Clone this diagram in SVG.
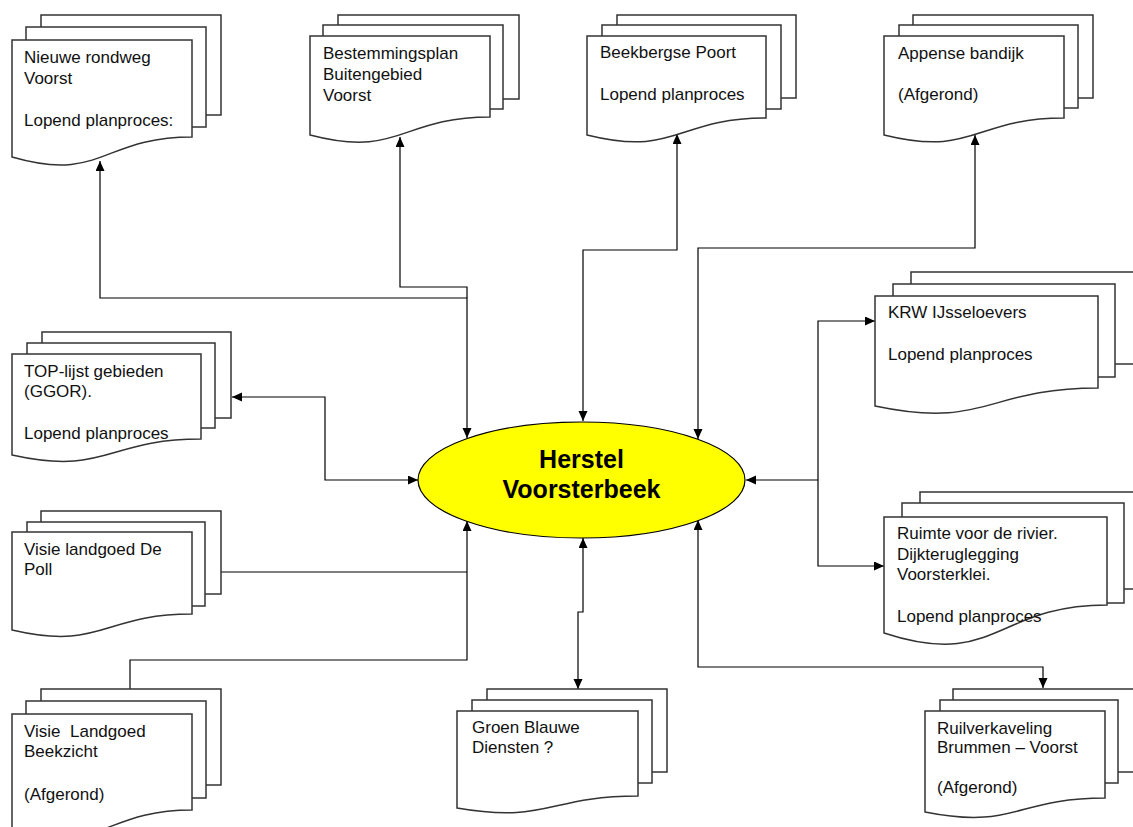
<svg xmlns="http://www.w3.org/2000/svg" width="1133" height="827" viewBox="0 0 1133 827">
<style>
.pg{fill:#fff;stroke:#333;stroke-width:1.5}
.t{font-family:"Liberation Sans",Arial,sans-serif;font-size:17px;fill:#111}
.c{fill:none;stroke:#000;stroke-width:1.2}
.h{font-family:"Liberation Sans",Arial,sans-serif;font-size:25px;font-weight:bold;fill:#000;text-anchor:middle}
</style>
<defs>
<marker id="a" markerUnits="userSpaceOnUse" markerWidth="11" markerHeight="10" refX="10" refY="4.5" orient="auto-start-reverse"><path d="M0,0 L10,4.5 L0,9 z" fill="#000"/></marker>
</defs>
<rect width="1133" height="827" fill="#fff"/>
<g id="connectors">
<path class="c" d="M100,161 V298 H467 V438" marker-start="url(#a)" marker-end="url(#a)"/>
<path class="c" d="M400,137 V287 H467 V298" marker-start="url(#a)"/>
<path class="c" d="M677,134 V250 H583 V421" marker-start="url(#a)" marker-end="url(#a)"/>
<path class="c" d="M975,135 V248 H698 V439" marker-start="url(#a)" marker-end="url(#a)"/>
<path class="c" d="M875,321 H818 V566 H884" marker-start="url(#a)" marker-end="url(#a)"/>
<path class="c" d="M818,480 H746" marker-end="url(#a)"/>
<path class="c" d="M232,397 H325 V480 H418" marker-start="url(#a)" marker-end="url(#a)"/>
<path class="c" d="M221,572 H467"/>
<path class="c" d="M130,689 V660 H467 V521" marker-end="url(#a)"/>
<path class="c" d="M583,538 V612 H578 V689" marker-start="url(#a)" marker-end="url(#a)"/>
<path class="c" d="M698,520 V667 H1043 V688" marker-start="url(#a)" marker-end="url(#a)"/>
</g>
<g id="center">
<ellipse cx="581.5" cy="480" rx="163.5" ry="58" fill="#ffff00" stroke="#000" stroke-width="1.2"/>
<text class="h" x="581.5" y="468">Herstel</text>
<text class="h" x="581.5" y="498">Voorsterbeek</text>
</g>
<g id="n-rondweg">
<rect class="pg" x="41" y="15" width="180" height="100"/>
<rect class="pg" x="26" y="27" width="180" height="100"/>
<path class="pg" d="M12,157 V40 H192 V137 C102,137 102,183 12,157 Z"/>
<text class="t" x="24" y="63">Nieuwe rondweg</text>
<text class="t" x="24" y="84">Voorst</text>
<text class="t" x="24" y="126">Lopend planproces:</text>
</g>
<g id="n-bestemmingsplan">
<rect class="pg" x="338" y="15" width="181" height="84"/>
<rect class="pg" x="323" y="25" width="180" height="84"/>
<path class="pg" d="M310,135 V36 H490 V117 C400,117 400,158.6 310,135 Z"/>
<text class="t" x="323" y="59">Bestemmingsplan</text>
<text class="t" x="323" y="80">Buitengebied</text>
<text class="t" x="323" y="101">Voorst</text>
</g>
<g id="n-beekbergse">
<rect class="pg" x="617" y="15" width="179" height="83"/>
<rect class="pg" x="602" y="25" width="179" height="84"/>
<path class="pg" d="M587,135 V36 H766 V118 C676.5,118 676.5,157.3 587,135 Z"/>
<text class="t" x="600" y="58">Beekbergse Poort</text>
<text class="t" x="600" y="100">Lopend planproces</text>
</g>
<g id="n-appense">
<rect class="pg" x="913" y="15" width="180" height="83"/>
<rect class="pg" x="899" y="25" width="179" height="83"/>
<path class="pg" d="M884,135 V36 H1064 V118 C974,118 974,157.3 884,135 Z"/>
<text class="t" x="898" y="59">Appense bandijk</text>
<text class="t" x="898" y="100">(Afgerond)</text>
</g>
<g id="n-krw">
<rect class="pg" x="911" y="272" width="240" height="92"/>
<rect class="pg" x="893" y="284" width="222" height="93"/>
<path class="pg" d="M875,406 V296 H1098 V388 C986.5,388 986.5,429.6 875,406 Z"/>
<text class="t" x="888" y="318">KRW IJsseloevers</text>
<text class="t" x="888" y="360">Lopend planproces</text>
</g>
<g id="n-top">
<rect class="pg" x="42" y="332" width="189" height="86"/>
<rect class="pg" x="27" y="343" width="188" height="85"/>
<path class="pg" d="M12,455 V354 H201 V439 C106.5,439 106.5,476 12,455 Z"/>
<text class="t" x="24" y="377">TOP-lijst gebieden</text>
<text class="t" x="24" y="397">(GGOR).</text>
<text class="t" x="24" y="439">Lopend planproces</text>
</g>
<g id="n-poll">
<rect class="pg" x="41" y="511" width="180" height="83"/>
<rect class="pg" x="27" y="522" width="178" height="84"/>
<path class="pg" d="M12,630 V532 H192 V614 C102,614 102,651 12,630 Z"/>
<text class="t" x="24" y="555">Visie landgoed De</text>
<text class="t" x="24" y="575">Poll</text>
</g>
<g id="n-ruimte">
<rect class="pg" x="920" y="492" width="230" height="97"/>
<rect class="pg" x="902" y="503" width="222" height="100"/>
<path class="pg" d="M884,633 V517 H1107 V605 C995.5,605 995.5,669.7 884,633 Z"/>
<text class="t" x="897" y="539">Ruimte voor de rivier.</text>
<text class="t" x="897" y="560">Dijkteruglegging</text>
<text class="t" x="897" y="580">Voorsterklei.</text>
<text class="t" x="897" y="622">Lopend planproces</text>
</g>
<g id="n-beekzicht">
<rect class="pg" x="41" y="689" width="180" height="96"/>
<rect class="pg" x="26" y="701" width="180" height="97"/>
<path class="pg" d="M12,830 V714 H192 V810 C102,810 102,856 12,830 Z"/>
<text class="t" x="24" y="737" xml:space="preserve">Visie  Landgoed</text>
<text class="t" x="24" y="757">Beekzicht</text>
<text class="t" x="24" y="800">(Afgerond)</text>
</g>
<g id="n-groen">
<rect class="pg" x="487" y="689" width="180" height="83"/>
<rect class="pg" x="472" y="700" width="180" height="83"/>
<path class="pg" d="M457,808 V711 H638 V796 C547.5,796 547.5,823.7 457,808 Z"/>
<text class="t" x="472" y="733">Groen Blauwe</text>
<text class="t" x="472" y="753">Diensten ?</text>
</g>
<g id="n-ruil">
<rect class="pg" x="953" y="689" width="185" height="83"/>
<rect class="pg" x="940" y="700" width="178" height="83"/>
<path class="pg" d="M925,812 V711 H1105 V798 C1015,798 1015,830 925,812 Z"/>
<text class="t" x="937" y="734">Ruilverkaveling</text>
<text class="t" x="937" y="753">Brummen – Voorst</text>
<text class="t" x="937" y="793">(Afgerond)</text>
</g>
</svg>
